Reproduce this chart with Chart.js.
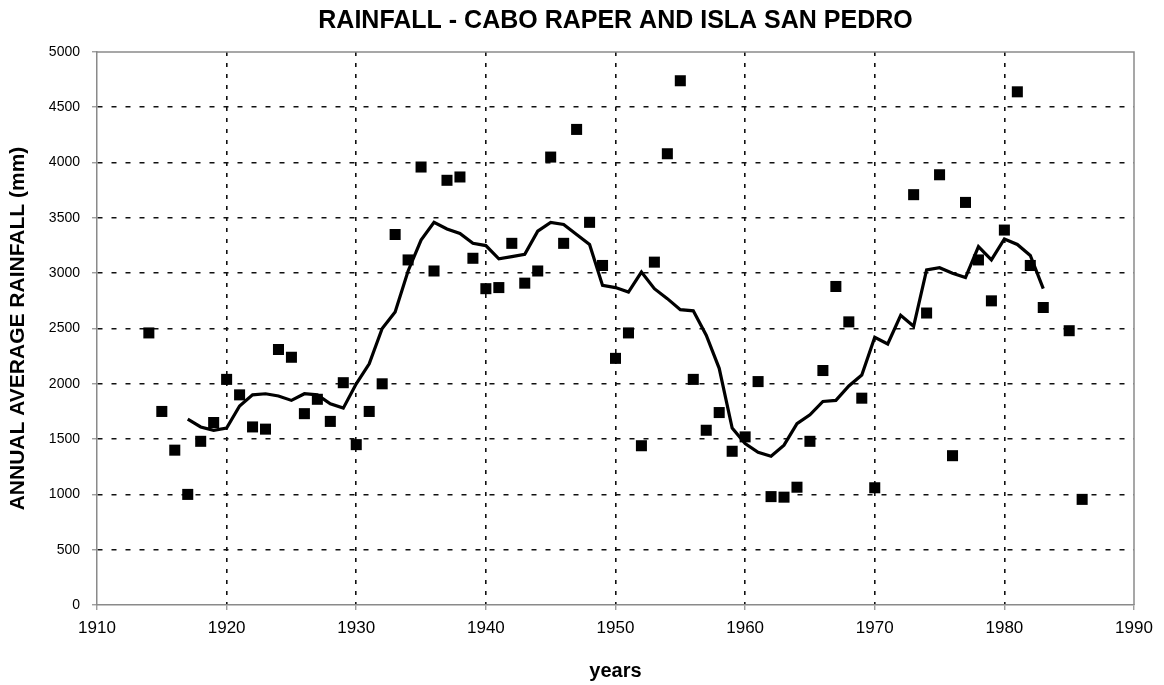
<!DOCTYPE html>
<html lang="en">
<head>
    <meta charset="UTF-8">
    <title>Rainfall - Cabo Raper and Isla San Pedro</title>
    <script src="https://cdn.jsdelivr.net/npm/chart.js"></script>
    <style>
        html, body { margin: 0; padding: 0; background: #fff; }
        .chart-box { position: relative; width: 1164px; height: 685px; }
    </style>
</head>
<body>
    <div class="chart-box">
        <canvas id="rainChart"></canvas>
    </div>

    <script>
        // yearly observations (squares)
        const obsYears = [1914, 1915, 1916, 1917, 1918, 1919, 1920, 1921, 1922, 1923,
            1924, 1925, 1926, 1927, 1928, 1929, 1930, 1931, 1932, 1933,
            1934, 1935, 1936, 1937, 1938, 1939, 1940, 1941, 1942, 1943,
            1944, 1945, 1946, 1947, 1948, 1949, 1950, 1951, 1952, 1953,
            1954, 1955, 1956, 1957, 1958, 1959, 1960, 1961, 1962, 1963,
            1964, 1965, 1966, 1967, 1968, 1969, 1970, 1973, 1974, 1975,
            1976, 1977, 1978, 1979, 1980, 1981, 1982, 1983, 1985, 1986];
        const obsRain = [2460, 1750, 1400, 1000, 1480, 1650, 2040, 1900, 1610, 1590,
            2310, 2240, 1730, 1860, 1660, 2010, 1450, 1750, 2000, 3350,
            3120, 3960, 3020, 3840, 3870, 3135, 2860, 2870, 3270, 2910,
            3020, 4050, 3270, 4300, 3460, 3070, 2230, 2460, 1440, 3100,
            4080, 4740, 2040, 1580, 1740, 1390, 1520, 2020, 980, 975,
            1065, 1480, 2120, 2880, 2560, 1870, 1060, 3710, 2640, 3890,
            1350, 3640, 3120, 2750, 3390, 4640, 3070, 2690, 2480, 955];

        // running average (line), one value per year from 1917
        const avgStart = 1917;
        const avgRain = [1680, 1610, 1580, 1600, 1800, 1900, 1910, 1890, 1850, 1910,
            1900, 1820, 1780, 2000, 2180, 2500, 2650, 3020, 3300, 3460,
            3400, 3360, 3270, 3250, 3130, 3150, 3170, 3380, 3460, 3440,
            3350, 3260, 2890, 2870, 2830, 3010, 2860, 2770, 2670, 2660,
            2440, 2140, 1600, 1460, 1380, 1345, 1445, 1640, 1720, 1840,
            1850, 1980, 2080, 2420, 2360, 2620, 2520, 3030, 3050, 3000,
            2960, 3240, 3120, 3310, 3260, 3160, 2860];

        const xTicks = [1910, 1920, 1930, 1940, 1950, 1960, 1970, 1980, 1990];
        const yTicks = [0, 500, 1000, 1500, 2000, 2500, 3000, 3500, 4000, 4500, 5000];

        const FONT = "'Liberation Sans', Arial, sans-serif";

        const obsPoints = obsYears.map((yr, i) => ({ x: yr, y: obsRain[i] }));
        const avgPoints = avgRain.map((v, i) => ({ x: avgStart + i, y: v }));

        // grey frame on top and right edges of the plot area
        const framePlugin = {
            id: 'frame',
            beforeDatasetsDraw(chart) {
                const { ctx, chartArea: a } = chart;
                ctx.save();
                ctx.strokeStyle = '#8a8a8a';
                ctx.lineWidth = 1.5;
                ctx.beginPath();
                ctx.moveTo(a.left, a.top);
                ctx.lineTo(a.right, a.top);
                ctx.lineTo(a.right, a.bottom);
                ctx.stroke();
                ctx.restore();
            }
        };

        const edgeless = (ticks) => (c) => {
            const v = c.tick ? c.tick.value : null;
            return (v === ticks[0] || v === ticks[ticks.length - 1]) ? 'rgba(0,0,0,0)' : '#111';
        };

        new Chart(document.getElementById('rainChart'), {
            type: 'scatter',
            data: {
                datasets: [{
                    label: 'Annual rainfall',
                    data: obsPoints,
                    pointStyle: 'rect',
                    pointRadius: 7.8,
                    pointHoverRadius: 7.8,
                    backgroundColor: '#000',
                    borderColor: '#000',
                    borderWidth: 0,
                    showLine: false
                }, {
                    label: 'Running average',
                    data: avgPoints,
                    showLine: true,
                    borderColor: '#000',
                    borderWidth: 3.2,
                    pointRadius: 0,
                    tension: 0,
                    fill: false
                }]
            },
            options: {
                responsive: true,
                maintainAspectRatio: false,
                animation: false,
                layout: { padding: { left: 6, right: 30, top: 0, bottom: 0 } },
                plugins: {
                    legend: { display: false },
                    tooltip: { enabled: false },
                    title: {
                        display: true,
                        fullSize: false,
                        text: 'RAINFALL - CABO RAPER AND ISLA SAN PEDRO',
                        color: '#000',
                        font: { family: FONT, size: 25, weight: 'bold' },
                        padding: { top: 6, bottom: 16 }
                    }
                },
                scales: {
                    x: {
                        type: 'linear',
                        min: xTicks[0],
                        max: xTicks[xTicks.length - 1],
                        afterBuildTicks: (s) => { s.ticks = xTicks.map(v => ({ value: v })); },
                        afterFit: (s) => { s.height = 80; },
                        ticks: {
                            color: '#000',
                            padding: 8,
                            maxRotation: 0,
                            font: { family: FONT, size: 17 },
                            callback: (v) => String(v)
                        },
                        grid: {
                            color: edgeless(xTicks),
                            lineWidth: 1.6,
                            tickColor: '#777',
                            tickLength: 5,
                            tickWidth: 1
                        },
                        border: { display: true, color: '#8a8a8a', width: 1.5, dash: [4, 7] },
                        title: {
                            display: true,
                            text: 'years',
                            color: '#000',
                            font: { family: FONT, size: 20, weight: 'bold' },
                            padding: { top: 0, bottom: 2 }
                        }
                    },
                    y: {
                        min: yTicks[0],
                        max: yTicks[yTicks.length - 1],
                        afterBuildTicks: (s) => { s.ticks = yTicks.map(v => ({ value: v })); },
                        afterFit: (s) => { s.width = 91; },
                        ticks: {
                            color: '#000',
                            padding: 12,
                            font: { family: FONT, size: 14 },
                            callback: (v) => String(v)
                        },
                        grid: {
                            color: edgeless(yTicks),
                            lineWidth: 1.6,
                            tickColor: '#777',
                            tickLength: 5,
                            tickWidth: 1
                        },
                        border: { display: true, color: '#8a8a8a', width: 1.5, dash: [5, 9] },
                        title: {
                            display: true,
                            text: 'ANNUAL AVERAGE RAINFALL (mm)',
                            color: '#000',
                            font: { family: FONT, size: 21, weight: 'bold' },
                            padding: { top: 0, bottom: 0 }
                        }
                    }
                }
            },
            plugins: [framePlugin]
        });
    </script>
</body>
</html>
